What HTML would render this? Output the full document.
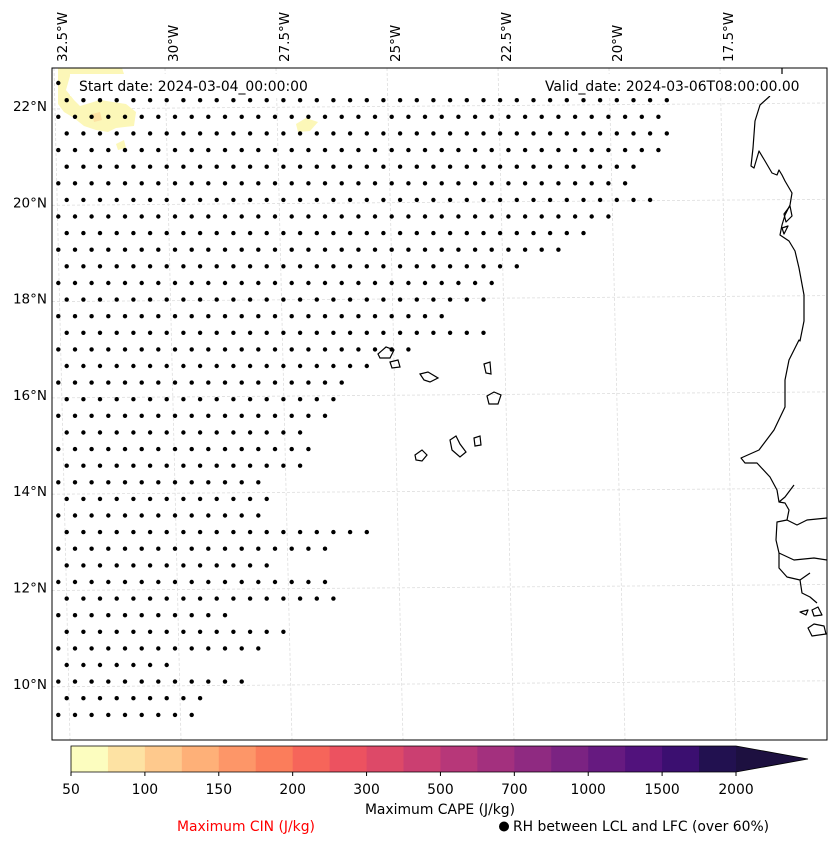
<!DOCTYPE html>
<html><head><meta charset="utf-8">
<style>
html,body{margin:0;padding:0;background:#fff;}
svg{display:block;font-family:"DejaVu Sans","Liberation Sans",sans-serif;}
</style></head>
<body>
<svg id="chart" width="837" height="845" viewBox="0 0 837 845" xmlns="http://www.w3.org/2000/svg">
  <defs><clipPath id="mapclip"><rect x="52" y="68" width="775" height="672"/></clipPath></defs>
  <rect x="0" y="0" width="837" height="845" fill="#fff"/>
  <g id="grid"></g>
  <g clip-path="url(#mapclip)">
    <g>
      <path d="M58,68 L122,68 L124,74 L70,76 L66,90 L74,100 L80,106 L100,100 L126,104 L136,112 L134,126 L116,128 L108,132 L96,130 L84,126 L74,118 L64,112 L58,104 Z" fill="#fcf7b8"/>
      <path d="M92,114 L100,112 L102,120 L94,122 Z" fill="#fde2a3"/>
      <path d="M296,124 L306,118 L318,122 L310,131 L298,132 Z" fill="#fcf7b8"/>
      <path d="M116,144 L124,140 L126,148 L118,150 Z" fill="#fcf7b8"/>
    </g>
    <g id="dots"></g>
    <g fill="none" stroke="#000" stroke-width="1.2" stroke-linejoin="round">
      <path d="M782,68 L782,75"/>
      <path d="M770,96 L760,105 L755,121 L753,148 L751,166 L754,168 L759,151 L765,161 L772,173 L777,175 L779,170 L782,175 L785,181 L792,193 L790,205 L785,215 L782,225 L780,235 L789,241 L795,251 L799,268 L804,295 L804,321 L800,341 L799,340 L789,360 L785,380 L785,407 L774,430 L759,450 L741,458 L745,463 L757,463 L770,477 L777,490 L779,502 L785,497 L794,485 M779,502 L785,503 L789,510 L787,520 L797,525 L807,520 L827,518 M787,520 L777,522 L776,540 L779,553 L794,560 L814,558 L827,560 M779,553 L779,568 L787,577 L800,580 L810,573 M800,580 L802,593 L810,597 L817,603"/>
      <path d="M784,214 L790,206 L792,216 L786,222 Z M782,228 L788,226 L784,234 Z"/>
      <path d="M800,612 L808,610 L806,615 Z M812,610 L818,607 L822,615 L814,616 Z M808,628 L814,624 L824,626 L826,634 L812,636 Z"/>
    </g>
    <g fill="none" stroke="#000" stroke-width="1.2">
      <path d="M378,354 L386,347 L394,350 L390,358 L380,358 Z"/>
      <path d="M390,362 L398,360 L400,367 L392,368 Z"/>
      <path d="M420,374 L428,372 L438,378 L430,382 L424,380 Z"/>
      <path d="M484,364 L490,362 L491,374 L486,373 Z"/>
      <path d="M487,396 L494,392 L501,395 L498,404 L489,404 Z"/>
      <path d="M450,440 L456,436 L460,444 L466,452 L460,457 L452,450 Z"/>
      <path d="M474,438 L480,436 L481,445 L475,446 Z"/>
      <path d="M415,455 L422,450 L427,455 L422,461 L416,460 Z"/>
    </g>
  </g>
  <rect x="52" y="68" width="775" height="672" fill="none" stroke="#000" stroke-width="1"/>
  <g id="axes" font-size="13.5" fill="#000"></g>
  <rect x="70" y="74" width="244" height="22" fill="#fff"/>
  <text x="79" y="91" font-size="13.9">Start date: 2024-03-04_00:00:00</text>
  <rect x="538" y="74" width="268" height="22" fill="#fff"/>
  <text x="545" y="91" font-size="13.9">Valid_date: 2024-03-06T08:00:00.00</text>
  <g id="colorbar"></g>
  <text x="440" y="814" font-size="13.9" text-anchor="middle">Maximum CAPE (J/kg)</text>
  <text x="246" y="831" font-size="13.9" text-anchor="middle" fill="#ff0000">Maximum CIN (J/kg)</text>
  <circle cx="504" cy="826.5" r="5" fill="#000"/>
  <text x="513" y="831" font-size="13.9">RH between LCL and LFC (over 60%)</text>
</svg>
<script>
// Map axes data
const latTicks = [22, 20, 18, 16, 14, 12, 10];
const lonTicks = [-32.5, -30, -27.5, -25, -22.5, -20, -17.5];
const lonLabels = ["32.5°W", "30°W", "27.5°W", "25°W", "22.5°W", "20°W", "17.5°W"];
// Dot-grid rows: right-most extent (deg W longitude) of RH>60% region per row
const rowLatStart = 22.12;
const rowLatStep = 0.345;
const rowRightLon = [-18.6,-19.0,-18.8,-19.0,-19.4,-19.6,-19.0,-19.9,-20.5,-21.1,-22.2,-22.8,-22.8,-23.7,-22.8,-24.4,-25.5,-25.9,-26.1,-26.4,-26.8,-26.7,-27.0,-27.8,-27.8,-28.0,-25.5,-26.5,-27.8,-26.3,-26.1,-28.6,-27.2,-27.8,-29.8,-28.2,-29.3,-29.3,-32.8];

const NS='http://www.w3.org/2000/svg';
const yLat = lat => 106 + (22 - lat) * 48.15;
const xLon = lon => 62 + (lon + 32.5) * 44.4;

const grid = document.getElementById('grid');
const axes = document.getElementById('axes');
latTicks.forEach(lat => {
  const y = yLat(lat);
  const l = document.createElementNS(NS,'line');
  l.setAttribute('x1',52); l.setAttribute('x2',827);
  l.setAttribute('y1',y+3); l.setAttribute('y2',y-3);
  l.setAttribute('stroke','#ddd'); l.setAttribute('stroke-width','0.8'); l.setAttribute('stroke-dasharray','3,2');
  
  
  grid.appendChild(l);
  const t = document.createElementNS(NS,'text');
  t.setAttribute('x',47); t.setAttribute('y',y+5); t.setAttribute('text-anchor','end');
  t.textContent = lat + '°N';
  
  
  axes.appendChild(t);
});
lonTicks.forEach((lon,i) => {
  const x = xLon(lon);
  const l = document.createElementNS(NS,'line');
  l.setAttribute('x1',x-8); l.setAttribute('x2',x+8);
  l.setAttribute('y1',68); l.setAttribute('y2',740);
  l.setAttribute('stroke','#ddd'); l.setAttribute('stroke-width','0.8'); l.setAttribute('stroke-dasharray','3,2');
  
  
  grid.appendChild(l);
  const t = document.createElementNS(NS,'text');
  t.setAttribute('transform','translate('+(x+5)+',62) rotate(-90)');
  t.textContent = lonLabels[i];
  
  
  axes.appendChild(t);
});

// dots
const dots = document.getElementById('dots');
function addDot(x,y){
  const c = document.createElementNS(NS,'circle');
  c.setAttribute('cx',x.toFixed(1)); c.setAttribute('cy',y.toFixed(1)); c.setAttribute('r',2.2);
  c.setAttribute('fill','#000');
  
  
  dots.appendChild(c);
}
addDot(58.3, 83);
rowRightLon.forEach((rlon,i) => {
  const y = yLat(rowLatStart - i*rowLatStep);
  const x0 = (i % 2 === 0) ? 66.7 : 58.3;
  const xr = xLon(rlon);
  for (let x = x0; x <= xr + 0.5; x += 16.67) addDot(x, y);
});

// colorbar
const cbColors = ["#fcfdbf","#fde2a3","#fec98d","#feb078","#fd9668","#fb7d5b","#f6655a","#ec5260","#dd4968","#cb3f71","#b73779","#a3307e","#8f2a81","#7b2382","#661a80","#51127c","#3b0f70","#221150"];
const cbLabels = ["50","100","150","200","300","500","700","1000","1500","2000"];
const cb = document.getElementById('colorbar');
const cbX0 = 71, cbX1 = 736, cbY = 746, cbH = 26;
const segW = (cbX1 - cbX0) / cbColors.length;
cbColors.forEach((col,i) => {
  const r = document.createElementNS(NS,'rect');
  r.setAttribute('x',(cbX0+i*segW).toFixed(2)); r.setAttribute('y',cbY);
  r.setAttribute('width',(segW+0.5).toFixed(2)); r.setAttribute('height',cbH);
  r.setAttribute('fill',col);
  
  
  cb.appendChild(r);
});
const arrow = document.createElementNS(NS,'path');
arrow.setAttribute('d','M'+cbX1+','+cbY+' L808,'+(cbY+cbH/2)+' L'+cbX1+','+(cbY+cbH)+' Z');
arrow.setAttribute('fill','#1d1040');


cb.appendChild(arrow);
const outline = document.createElementNS(NS,'path');
outline.setAttribute('d','M'+cbX0+','+cbY+' L'+cbX1+','+cbY+' L808,'+(cbY+cbH/2)+' L'+cbX1+','+(cbY+cbH)+' L'+cbX0+','+(cbY+cbH)+' Z');
outline.setAttribute('fill','none'); outline.setAttribute('stroke','#000'); outline.setAttribute('stroke-width','0.8');


cb.appendChild(outline);
cbLabels.forEach((lab,i) => {
  const x = cbX0 + i*2*segW;
  const tk = document.createElementNS(NS,'line');
  tk.setAttribute('x1',x); tk.setAttribute('x2',x); tk.setAttribute('y1',cbY+cbH); tk.setAttribute('y2',cbY+cbH+4);
  tk.setAttribute('stroke','#000');
  
  
  cb.appendChild(tk);
  const t = document.createElementNS(NS,'text');
  t.setAttribute('x',x); t.setAttribute('y',794); t.setAttribute('text-anchor','middle'); t.setAttribute('font-size','13.9');
  t.textContent = lab;
  
  
  cb.appendChild(t);
});
</script>
</body></html>
